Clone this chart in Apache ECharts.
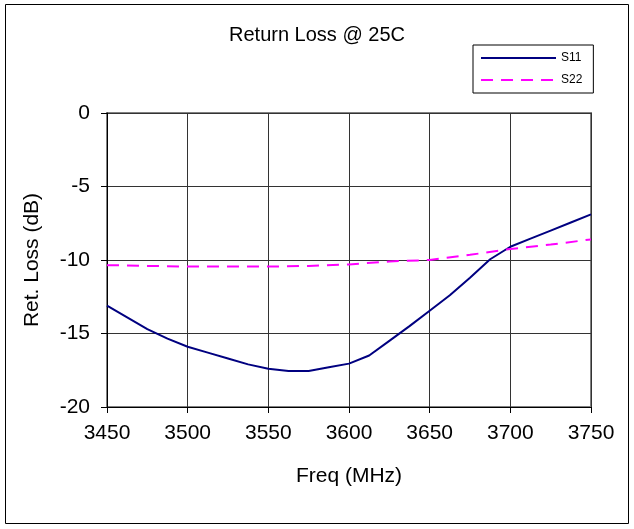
<!DOCTYPE html>
<html><head><meta charset="utf-8">
<script src="https://cdn.jsdelivr.net/npm/echarts@6/dist/echarts.min.js"></script>
<style>html,body{margin:0;padding:0;background:#fff}#c{width:634px;height:529px}</style>
</head><body><div id="c"></div>
<script>
const freqS11 = [3450,3462.5,3475,3487.5,3500,3512.5,3525,3537.5,3550,3562.5,3575,3587.5,3600,3612.5,3625,3637.5,3650,3662.5,3675,3687.5,3700,3712.5,3725,3737.5,3750];
const s11 = [-13.1,-13.9,-14.7,-15.35,-15.9,-16.3,-16.7,-17.1,-17.4,-17.55,-17.55,-17.3,-17.05,-16.5,-15.5,-14.5,-13.45,-12.4,-11.2,-9.95,-9.1,-8.55,-8.0,-7.45,-6.9];
const freqS22 = [3450,3475,3500,3525,3550,3575,3600,3625,3650,3675,3700,3725,3750];
const s22 = [-10.35,-10.4,-10.45,-10.45,-10.45,-10.4,-10.3,-10.1,-10.0,-9.65,-9.25,-8.95,-8.6];
const font = 'Liberation Sans, Arial, sans-serif';
const chart = echarts.init(document.getElementById('c'), null, {renderer:'canvas'});
chart.setOption({
  animation:false,
  backgroundColor:'#fff',
  graphic:[{type:'rect',shape:{x:5.5,y:4.5,width:623,height:519},style:{fill:'none',stroke:'#000',lineWidth:1},silent:true}],
  title:{text:'Return Loss @ 25C',left:'center',top:20,textStyle:{fontFamily:font,fontSize:20,fontWeight:'normal',color:'#000'}},
  legend:{orient:'vertical',left:473,top:45,padding:[7,11,7,7],itemGap:10,itemWidth:75,itemHeight:14,
    borderColor:'#000',borderWidth:1,backgroundColor:'#fff',
    itemStyle:{opacity:0},
    textStyle:{fontFamily:font,fontSize:12,color:'#000'},
    data:['S11','S22']},
  grid:{left:107,top:113,width:484,height:294,show:true,borderColor:'#808080',borderWidth:2,backgroundColor:'#fff'},
  xAxis:{type:'value',min:3450,max:3750,interval:50,name:'Freq (MHz)',nameLocation:'middle',nameGap:59,
    nameTextStyle:{fontFamily:font,fontSize:21,color:'#000'},
    axisLine:{onZero:false,lineStyle:{color:'#000',width:1}},
    axisTick:{show:true,length:6,lineStyle:{color:'#000'}},
    axisLabel:{fontFamily:font,fontSize:21,color:'#000',margin:16,formatter:v=>String(v)},
    splitLine:{show:true,lineStyle:{color:'#333',width:1}}},
  yAxis:{type:'value',min:-20,max:0,interval:5,name:'Ret. Loss (dB)',nameLocation:'middle',nameGap:64,
    nameTextStyle:{fontFamily:font,fontSize:21,color:'#000'},
    axisLine:{show:true,onZero:false,lineStyle:{color:'#000',width:1}},
    axisTick:{show:true,length:6,lineStyle:{color:'#000'}},
    axisLabel:{fontFamily:font,fontSize:21,color:'#000',margin:17},
    splitLine:{show:true,lineStyle:{color:'#333',width:1}}},
  series:[
    {name:'S11',type:'line',symbol:'none',data:freqS11.map((f,i)=>[f,s11[i]]),lineStyle:{color:'#000080',width:2},itemStyle:{color:'#000080'}},
    {name:'S22',type:'line',symbol:'none',data:freqS22.map((f,i)=>[f,s22[i]]),lineStyle:{color:'#FF00FF',width:2,type:[12,8]},itemStyle:{color:'#FF00FF'}}
  ]
});
</script></body></html>
